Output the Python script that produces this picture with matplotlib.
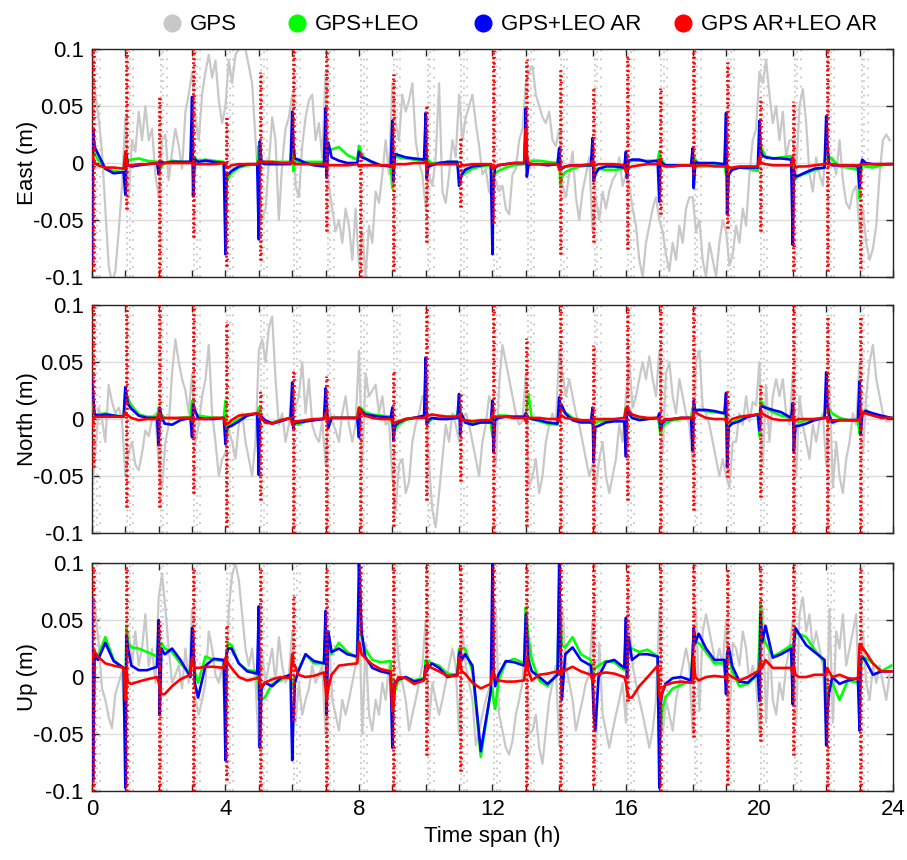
import numpy as np
import matplotlib
matplotlib.use('Agg')
import matplotlib.pyplot as plt
from matplotlib.lines import Line2D

plt.rcParams['font.family'] = ['Liberation Sans', 'DejaVu Sans']
plt.rcParams['font.size'] = 16

# ---- data (values in mm) ----
hours = np.arange(24)
line_offsets = [0.0, 0.03, 0.08, 0.18, 0.4, 0.65, 0.95]
gps_offsets = [0.0, 0.1, 0.2, 0.3, 0.4, 0.5, 0.6, 0.7, 0.8, 0.9]
ytick_vals = [-0.1, -0.05, 0, 0.05, 0.1]
ytick_labels = ['-0.1', '-0.05', '0', '0.05', '0.1']
series_names = ['GPS', 'GPS+LEO', 'GPS+LEO AR', 'GPS AR+LEO AR']
panel_names = ['East (m)', 'North (m)', 'Up (m)']

east_gps = [
    [90, 60, 40, 10, -40, -90, -105, -95, -60, -20],
    [40, -30, 20, 10, 45, 20, 50, 20, 30, -10],
    [-30, 20, 25, -15, 10, 30, 15, -5, 45, 60],
    [80, 40, 20, 60, 80, 95, 75, 90, 55, 35],
    [50, 90, 70, 95, 100, 105, 100, 85, 70, 20],
    [-20, -50, -40, 0, 40, 20, -50, 0, 30, 40],
    [60, -20, -30, 15, 40, 55, 60, 20, 35, 5],
    [80, -20, -40, -60, -50, -70, -40, -55, -85, -40],
    [-90, -60, -100, -55, -70, -25, -35, -10, 20, -10],
    [70, 35, 20, 60, 45, 55, 70, 20, 0, -10],
    [-40, -10, -20, 5, 70, -25, -35, -10, 20, 5],
    [60, 20, 40, 50, 60, 35, 15, -10, -5, -25],
    [-30, -15, -25, -20, -40, -45, -10, -5, 20, 30],
    [70, 80, 85, 60, 50, 40, 35, 45, 20, 15],
    [30, -20, -30, -10, 10, -30, -50, -25, -10, 5],
    [-60, -30, -50, -25, -40, -25, -15, -10, 5, -20],
    [-10, -20, -40, -55, -85, -100, -70, -55, -40, -30],
    [-50, -60, -80, -95, -70, -85, -55, -70, -40, -30],
    [-30, -60, -50, -85, -100, -70, -85, -100, -70, -50],
    [-60, -90, -80, -55, -70, -40, -55, -10, 20, 30],
    [80, 70, 90, 60, 35, 50, 20, 45, 5, 20],
    [20, -10, 50, 65, 35, -10, -25, 5, -10, -20],
    [20, 0, 5, -10, 20, -15, -35, -40, -25, -20],
    [-60, -40, -70, -85, -75, -55, -10, 20, 25, 20],
]
east_leo = [
    [-30, 15, 8, 3, -5, -7, -8], [-10, 5, 2, 3, 4, 2, 1],
    [-8, -6, -3, 0, 2, 1, 1], [20, -10, 5, 2, 3, 2, 1],
    [-30, -16, -13, -9, -4, -2, -1], [15, 5, 2, 1, 1, 1, 1],
    [20, -7, 2, 1, 1, 1, 1], [25, 5, 8, 12, 14, 7, 3],
    [15, 12, 8, 4, 0, -2, -2], [-22, 5, 6, 5, 4, 3, 2],
    [10, 5, 2, 0, 0, 1, 1], [-15, -13, -11, -9, -5, -3, -2],
    [-20, -10, -9, -7, -4, -2, -1], [5, -3, -2, 2, 2, 1, 0],
    [12, -19, -12, -8, -5, -3, -2], [0, -10, -6, -5, -6, -6, -5],
    [5, 0, 1, 2, 2, 2, 2], [10, 5, 2, -2, -3, -2, -2],
    [8, 6, 3, -3, -3, -2, -2], [-10, -8, -7, -5, -4, -5, -7],
    [20, 16, 12, 6, 4, 5, 6], [-20, -16, -14, -11, -9, -6, -4],
    [15, 8, 6, 3, -3, -4, -6], [-31, -10, 0, -3, -4, -2, -1],
]
east_leo_ar = [
    [-86, 30, 14, 8, -5, -9, -8], [-28, 8, -2, -3, -2, -1, 0],
    [-10, 2, 1, 0, 1, 1, 1], [58, -29, 3, 1, 2, 1, 0],
    [-80, -9, -10, -7, -3, -1, -1], [-67, 19, 0, -1, -1, -1, -1],
    [45, 16, 4, 3, 0, -2, -3], [48, -13, 18, 5, 2, 0, 0],
    [10, 7, 5, 4, 1, -2, -3], [37, -16, 8, 7, 5, 4, 3],
    [44, -13, -3, -2, 0, 1, 1], [-20, -16, -10, -6, -3, -2, -1],
    [-80, -16, -4, -2, -1, 0, 0], [48, -12, -2, -1, -1, -2, -1],
    [13, -6, -5, -3, -2, -2, -2], [22, -16, -10, -5, -3, -3, -4],
    [10, -13, 2, 3, 3, 1, 2], [-34, 3, 0, -2, -2, -2, -2],
    [13, -22, 1, 0, 0, 0, -1], [44, -45, -10, -6, -4, -4, -4],
    [37, 12, 7, 5, 4, 4, 3], [-72, -6, -12, -11, -8, -5, -4],
    [41, 19, 0, -2, -2, -2, -3], [-22, -4, 3, 0, -1, -1, -1],
]
east_ar = [
    [8, 5, 0, -2, -4, -4, -5], [10, 3, -2, -2, -1, -1, 0],
    [-2, -1, -1, 0, 0, 0, 0], [0, -1, -1, -1, -1, -1, 0],
    [0, -3, -4, -2, -1, -1, -1], [2, 1, 1, 1, 1, 0, 0],
    [2, 0, -1, -1, -1, -1, -1], [0, -2, -2, -2, -2, -2, -1],
    [-3, -2, -2, -2, -2, -2, -2], [-3, -1, -1, -1, -1, 0, 0],
    [2, -1, -1, -1, -1, -1, -1], [-3, -3, -2, -2, -1, -1, -1],
    [-5, -4, -3, -2, -1, 0, 0], [30, 8, 0, -1, -1, -1, -1],
    [-6, -6, -4, -3, -2, -2, -1], [2, -1, -2, -1, -1, -1, -2],
    [-8, -6, -4, -3, -2, -1, -1], [3, 0, -2, -3, -3, -2, -2],
    [-2, -2, -3, -2, -2, -3, -3], [-3, -4, -4, -4, -3, -3, -3],
    [5, 1, 0, -1, -2, -2, -2], [5, 0, -4, -3, -3, -2, -1],
    [0, -1, -1, -1, -2, -2, -2], [-2, -1, -1, -1, -1, -1, -1],
]
east_spike_top = [100, 100, 58, 100, 40, 80, 100, 100, 10, 78, 51, 22,
                  100, 91, 82, 66, 95, 66, 100, 89, 58, 54, 100, 0]
east_spike_bot = [-95, -40, -100, -65, -90, -85, 0, -60, -100, -95, -69, -39,
                  -53, 10, -80, -69, -75, -45, -10, -57, -60, -95, -95, -92]

north_gps = [
    [-60, -30, 10, 0, -20, 30, 15, 5, 10, 0],
    [-50, -30, -20, -40, -45, -30, -10, -15, 0, 5],
    [-40, -60, -20, -5, 40, 70, 50, 35, 25, 5],
    [40, -20, -5, 20, 35, 65, 5, -20, -50, -35],
    [-30, -10, -20, -35, -5, 5, -20, -35, -50, -20],
    [60, 70, 50, 80, 90, 35, -5, 5, -20, -5],
    [30, 10, 20, 50, 5, 35, -5, -15, -20, -2],
    [-40, 10, -2, -10, -20, 5, 20, -5, -20, -5],
    [60, -40, 40, 20, 25, 30, 5, 20, -5, -2],
    [-50, -80, -40, -35, -65, -55, -20, -5, 5, 20],
    [20, -40, -80, -95, -65, -35, -5, -20, 5, -5],
    [-20, 0, 5, -5, -20, -35, -50, -20, -5, 20],
    [10, -40, 30, 65, 50, 35, 20, 5, -5, -2],
    [40, -60, -50, -35, -65, -50, -20, -5, 5, -5],
    [60, 40, 20, 35, 20, 5, -5, -20, -35, -50],
    [-40, -60, -35, -20, -50, -65, -50, -35, -5, -20],
    [20, 50, 10, 20, 35, 50, 35, 55, 35, 20],
    [60, -30, 40, 50, 20, 5, 35, 20, 5, -5],
    [-40, 50, 60, 10, 5, -5, -20, -35, -50, -35],
    [-50, -60, -20, -20, 5, -5, 20, -2, 15, 12],
    [50, -40, 30, -20, 20, 35, 20, 35, 5, -5],
    [40, -50, 20, -5, -20, -35, -5, -20, -2, 5],
    [-40, 30, -60, -20, -50, -65, -35, -20, 5, -5],
    [50, -30, 20, 50, 65, 35, 20, 5, -2, -2],
]
north_leo = [
    [20, 10, 4, 4, 5, 3, 2], [25, 22, 18, 12, 4, 2, 2],
    [10, 7, 4, 1, 0, 1, 2], [16, 14, 6, 3, 2, 1, 1],
    [16, -13, -8, -4, 0, 3, 5], [10, 9, 2, -2, -3, -1, 1],
    [10, -5, -4, -5, -2, -1, 1], [10, 5, 1, 1, 1, 1, 1],
    [10, 10, 9, 6, 4, 3, 2], [-5, -10, -9, -5, -1, 1, 2],
    [5, -3, -3, 0, 1, 2, 3], [12, 10, 3, -2, -3, -3, -3],
    [-15, -5, 0, 3, 3, 2, 2], [5, 10, 22, 0, -2, -4, -5],
    [10, 9, 8, 6, 1, -1, -2], [-5, -5, -3, -2, -2, -1, -2],
    [10, 8, 7, 4, 0, 0, 1], [-5, -13, -8, -4, -1, 0, 1],
    [10, 9, 8, 8, 7, 6, 5], [0, -8, -6, -3, 0, 2, 4],
    [-15, 17, 14, 10, 6, 3, 1], [0, 0, -1, -3, -1, 0, 1],
    [15, 12, 9, 5, 1, -1, -1], [-13, -5, 5, 8, 4, 2, 1],
]
north_leo_ar = [
    [35, 22, 4, 3, 4, 3, 2], [28, 22, 13, 9, 3, 1, 1],
    [-23, 10, 2, -4, -5, -1, 1], [-16, 13, 8, 1, 0, 0, 1],
    [-22, -10, -7, -6, -2, 3, 5], [-49, 0, 2, -1, -4, -2, 1],
    [32, -8, -3, -3, -2, -1, 0], [27, 12, -8, 1, 1, 1, 1],
    [-16, 9, 7, 4, 3, 2, 1], [10, -19, -6, -3, 0, 1, 3],
    [54, -5, -1, 1, 0, 0, 1], [22, -13, 4, -3, -5, -3, -3],
    [16, -29, -1, 1, 2, 2, 2], [5, 3, 1, 0, -1, -3, -4],
    [19, 7, 12, 5, -1, -3, -3], [10, -38, -7, -6, -3, -2, -2],
    [-33, 9, 5, 1, -1, 0, 1], [5, -10, -4, -1, 0, 1, 1],
    [-28, 16, 7, 8, 8, 7, 5], [23, -42, -7, -4, -2, 2, 4],
    [-10, 10, 11, 10, 8, 6, 1], [14, -28, -6, -6, -4, -1, 1],
    [41, 14, 4, -3, -1, -1, -1], [33, -14, 4, 7, 5, 3, 1],
]
north_ar = [
    [-5, 0, 2, 2, 2, 2, 2], [6, 4, 3, 1, -1, 0, 0],
    [5, 3, 0, 1, 1, 1, 1], [-2, -1, 0, 0, 0, 1, 1],
    [-5, -4, -4, -1, 3, 4, 5], [5, 3, 1, -3, -4, -1, 1],
    [-5, -3, -2, -2, -1, 0, 0], [5, 0, 0, 1, 1, 1, 1],
    [10, 8, 5, 3, 1, 0, 0], [-2, -3, -3, -2, 0, 1, 1],
    [2, 2, 3, 4, 3, 2, 2], [4, 2, 0, -1, -2, -1, -1],
    [4, 3, 2, 2, 2, 1, 1], [-2, 0, 1, 1, 1, 0, 0],
    [-2, 4, 3, 1, 0, -1, -1], [-3, -1, 0, 0, 0, 0, 1],
    [9, 10, 8, 4, 2, 1, 1], [0, -2, -2, 0, 0, 1, 1],
    [2, 5, 6, 4, 1, 0, 0], [-2, -3, -3, 0, 2, 3, 4],
    [4, 6, 5, 3, 0, -1, -1], [3, -1, -1, 0, 0, 0, 1],
    [1, 0, -1, -1, -1, -1, -1], [0, 2, 5, 5, 3, 1, 1],
]
north_spike_top = [100, 100, 100, 100, 85, 25, 42, 38, 10, 42, 97, 22,
                   100, 71, 100, 65, 100, 100, 100, 25, 30, 100, 91, 91]
north_spike_bot = [-42, -77, -77, -65, -95, -71, -100, -100, -100, -94, -71, -54,
                   -100, -94, -100, -100, -71, -100, -80, -51, -68, -100, -100, -100]

up_gps = [
    [80, 60, 30, -10, -20, -35, -45, -15, -5, 5],
    [-60, 40, 10, 40, 10, 25, 55, 10, 25, -5],
    [70, 90, 60, 25, -5, 2, 10, -10, 25, -5],
    [60, -20, -33, -20, -5, 40, 25, 2, -5, 10],
    [-40, 60, 90, 100, 85, 55, 25, 10, 25, -5],
    [-60, 20, -5, 10, 25, -5, 35, 10, -5, 2],
    [40, -40, -5, -33, -20, -10, 10, -5, 2, 10],
    [-50, 40, -20, -33, -47, -20, -33, -20, -5, 10],
    [60, -50, 30, -33, -47, -20, -33, -5, -20, 10],
    [-40, 50, 10, -5, -20, -47, -33, -20, -5, 10],
    [50, -40, -5, -20, -33, -20, -5, 10, 25, 10],
    [-50, 40, 10, -5, -20, -60, -47, -33, -20, -10],
    [-10, 60, -33, -47, -62, -68, -56, -33, -20, -5],
    [50, -50, -47, -33, -62, -76, -47, -20, -5, 10],
    [-60, 60, 10, -5, -20, -47, -33, -20, -5, 2],
    [50, -60, 30, -33, -47, -62, -47, -33, -20, -5],
    [-40, 50, 10, -5, -20, -33, -47, -62, -47, -20],
    [60, -50, -20, -33, -47, -20, -5, 10, 25, 10],
    [-50, 60, -30, 40, 55, 40, 25, 10, 25, 10],
    [50, -40, 30, 25, 10, 40, 25, -5, 10, -5],
    [-50, 60, -40, 30, -20, -33, -5, -20, 10, 25],
    [50, -40, 55, 70, 40, 55, 25, 40, 25, 10],
    [-50, 60, -40, 40, 25, 55, 10, 25, 40, 55],
    [-40, 40, -5, -20, 10, -5, 10, -5, -20, 2],
]
up_leo = [
    [30, 25, 20, 18, 35, 15, 7], [-50, 45, 30, 26, 25, 22, 18],
    [30, 25, 30, 25, 22, 12, 3], [30, 20, 5, -5, 18, 15, 14],
    [-30, 22, 30, 28, 12, 6, 5], [-20, -15, -20, -18, -6, -3, 2],
    [-10, -5, -3, 5, 20, 12, 12], [40, 30, 26, 20, 30, 22, 17],
    [70, 60, 35, 25, 15, 13, 14], [-35, -30, -12, -3, 0, -3, -1],
    [15, 10, 14, 12, 10, 3, 2], [25, 25, 25, 25, 5, -70, -13],
    [-10, -20, -28, -3, 13, 16, 12], [61, 50, 35, 15, -3, -8, 3],
    [80, 55, 28, 26, 35, 20, 15], [0, 5, 8, 10, 14, 13, 6],
    [40, 30, 25, 25, 22, 24, 18], [-60, -50, -30, -18, -10, -7, -3],
    [25, 35, 30, 30, 22, 12, 12], [-5, 15, 20, 5, -8, -6, 2],
    [30, 66, 40, 30, 18, 22, 28], [-10, 20, 40, 38, 35, 24, 13],
    [-40, -20, -10, -5, -20, -3, -5], [-20, 8, 15, 17, 12, 5, 10],
]
up_leo_ar = [
    [69, -90, 20, 15, 30, 14, 8], [-97, 37, 25, 10, 6, 6, 9],
    [50, -33, 25, 20, 25, 15, 0], [43, 35, -5, -18, 10, 16, 15],
    [-73, 20, 25, 25, 12, 5, 3], [62, -62, -10, -5, -8, -1, 2],
    [-73, -40, -5, 5, 20, 14, 12], [58, -33, 40, 22, 25, 20, 18],
    [99, 80, 40, 18, 8, 5, 3], [-62, -12, -5, -2, 0, -4, -2],
    [10, 5, 8, 12, 8, 0, 2], [20, 23, 15, 20, 10, -65, -12],
    [99, 8, -8, 2, 14, 13, 10], [55, 40, 15, 5, 0, -6, 2],
    [100, 40, -20, 20, 26, 15, 10], [-5, -30, -47, 0, 13, 15, 8],
    [52, 0, 35, 15, 20, 20, 18], [-97, -25, -15, -6, -1, 0, -3],
    [20, 43, 30, 38, 25, 15, 15], [-15, 20, 26, 10, -4, -5, 3],
    [-21, 55, 30, 45, 17, 20, 25], [-24, 30, 43, 38, 28, 22, 15],
    [-60, -35, -15, 0, -6, -3, -1], [-47, 15, 18, 14, 2, 5, 5],
]
up_ar = [
    [15, 20, 22, 18, 12, 10, 8], [-20, 5, -5, -6, -4, -2, 0],
    [-5, -8, -15, -15, -8, -2, 2], [17, 12, 8, 8, 9, 9, 8],
    [17, 15, 12, 8, 0, -3, -1], [0, -6, -8, -5, -2, 0, -1],
    [20, 10, 10, 2, 0, 1, 4], [-10, -21, -10, 2, 10, 11, 12],
    [31, 28, 20, 17, 11, 7, 5], [-30, -24, -8, 0, -1, -6, -3],
    [8, 11, 10, 8, 5, 1, 1], [17, 12, 5, 3, -5, -10, -6],
    [5, 3, 0, -3, -4, -4, -3], [10, 17, 5, -3, 2, 3, 5],
    [5, 2, 4, 6, 9, 5, 2], [-4, 0, 2, 3, 4, 3, 0],
    [-5, -12, -18, -18, -8, 0, 10], [-15, -20, -14, -7, -5, -4, -5],
    [-5, 17, 0, -3, 0, 1, 0], [-2, 2, 2, 0, -3, 0, 5],
    [8, 14, 8, 15, 8, 8, 8], [2, 10, 2, 0, 0, 2, 2],
    [2, 8, 5, 0, 2, -1, -2], [29, 29, 26, 22, 12, 5, 5],
]
up_spike_top = [98, 98, 49, 96, 46, 96, 72, 96, 99, 99, 99, 99,
                99, 99, 99, 99, 99, 99, 99, 96, 99, 99, 2, 96]
up_spike_bot = [-100, -100, -100, -100, -90, -100, -38, -100, 37, -100, -68, -82,
                2, -100, -100, -95, -21, -100, -53, -95, -56, -68, -100, -100]

# ---- plotting ----
c_gps, c_leo, c_leo_ar, c_ar = '#c8c8c8', '#00ff00', '#0000ff', '#ff0000'

t_line = (hours[:, None] + np.array(line_offsets)[None, :]).ravel()
t_gps = (hours[:, None] + np.array(gps_offsets)[None, :]).ravel()

panels = [
    (east_gps, east_leo, east_leo_ar, east_ar, east_spike_top, east_spike_bot),
    (north_gps, north_leo, north_leo_ar, north_ar, north_spike_top, north_spike_bot),
    (up_gps, up_leo, up_leo_ar, up_ar, up_spike_top, up_spike_bot),
]
bottoms = [0.6779, 0.3802, 0.0802]


def mm(v):
    return np.array(v, dtype=float).ravel() / 1000.0


fig = plt.figure(figsize=(9.07, 8.6), dpi=100)

for i, (gps, leo, leo_ar, ar, sp_top, sp_bot) in enumerate(panels):
    ax = fig.add_axes([0.1014, bottoms[i], 0.8831, 0.2651])

    # float GPS: jagged line plus dotted columns while re-converging
    ax.plot(t_gps, mm(gps), color=c_gps, lw=1.6, zorder=2)
    for off, dash in [(0.06, (1, 2)), (0.14, (1, 3)), (0.24, (1, 4))]:
        ax.vlines(hours + off, -0.1, 0.1, colors=c_gps,
                  linestyles=(0, dash), lw=1.3, zorder=2)
    ax.plot(t_line, mm(leo), color=c_leo, lw=1.9, zorder=3)
    ax.plot(t_line, mm(leo_ar), color=c_leo_ar, lw=1.9, zorder=4)
    # fixed solution before ambiguity fixing: red dotted columns
    for off, dash in [(0.02, (0.7, 0.9)), (0.05, (0.6, 1.6))]:
        ax.vlines(hours + off, mm(sp_bot), mm(sp_top), colors=c_ar,
                  linestyles=(0, dash), lw=2.0, zorder=5)
    ax.plot(t_line, mm(ar), color=c_ar, lw=1.9, zorder=6)

    ax.set_xlim(0, 24)
    ax.set_ylim(-0.1, 0.1)
    ax.set_yticks(ytick_vals)
    ax.set_yticklabels(ytick_labels)
    ax.set_xticks(np.arange(0, 25, 1))
    if i == 2:
        ax.set_xticklabels([str(h) if h % 4 == 0 else '' for h in range(25)])
        ax.set_xlabel('Time span (h)', labelpad=4)
    else:
        ax.set_xticklabels([])
    ax.tick_params(direction='in', length=5, width=1, top=True, right=True,
                   colors='#262626', labelcolor='black', pad=6)
    ax.yaxis.grid(True, color='#dcdcdc', lw=1)
    ax.set_axisbelow(True)
    for s in ax.spines.values():
        s.set_color('#262626')
        s.set_linewidth(1)
    ax.set_ylabel(panel_names[i])
    ax.yaxis.set_label_coords(-0.068, 0.5)

# legend: one entry per position like the original
leg_colors = [c_gps, c_leo, c_leo_ar, c_ar]
leg_x = [161, 286, 472, 672]
for name, col, x in zip(series_names, leg_colors, leg_x):
    h = Line2D([], [], marker='o', ls='none', color=col, markersize=12)
    fig.legend(handles=[h], labels=[name], loc='center left',
               bbox_to_anchor=(x / 907, 1 - 25 / 860), frameon=False,
               handlelength=1.0, handletextpad=0.3, borderpad=0, borderaxespad=0)

fig.savefig('out.png', dpi=100)
